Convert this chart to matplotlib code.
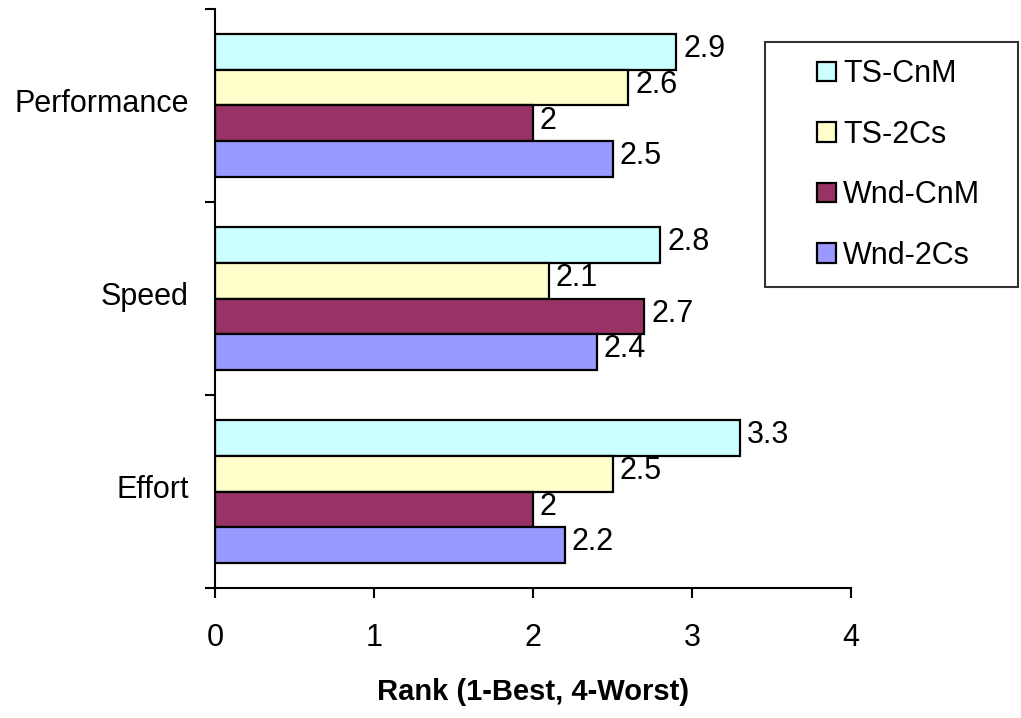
import matplotlib.pyplot as plt
import matplotlib.patches as patches
import matplotlib.transforms as mtransforms
import numpy as np

plt.rcParams['font.family'] = ['Liberation Sans', 'DejaVu Sans']

categories = ['Performance', 'Speed', 'Effort']
series = ['TS-CnM', 'TS-2Cs', 'Wnd-CnM', 'Wnd-2Cs']
ts_cnm = [2.9, 2.8, 3.3]
ts_2cs = [2.6, 2.1, 2.5]
wnd_cnm = [2.0, 2.7, 2.0]
wnd_2cs = [2.5, 2.4, 2.2]
colors = ['#CCFFFF', '#FFFFCC', '#993366', '#9999FF']

values = [ts_cnm, ts_2cs, wnd_cnm, wnd_2cs]

fig = plt.figure(figsize=(10.21, 7.18), dpi=100)
ax = fig.add_axes([0.2106, 0.181, 0.6229, 0.8065])

# Performance on top, Effort at the bottom
ypos = np.arange(len(categories))[::-1]
bar_h = 0.185
offsets = [1.5 * bar_h, 0.5 * bar_h, -0.5 * bar_h, -1.5 * bar_h]

handles = []
for vals, off, col, name in zip(values, offsets, colors, series):
    bars = ax.barh(ypos + off, vals, height=bar_h, color=col,
                   edgecolor='black', linewidth=1.6, label=name)
    handles.append(bars)
    for b, v in zip(bars, vals):
        txt = f'{v:g}'
        ax.annotate(txt, (b.get_width(), b.get_y() + b.get_height() / 2),
                    xytext=(5, 2), textcoords='offset points',
                    va='center', ha='left', fontsize=22)

ax.set_xlim(0, 4)
ax.set_ylim(-0.5, 2.5)
ax.set_xticks([0, 1, 2, 3, 4])
ax.set_yticks(ypos)
ax.set_yticklabels(categories)
ax.set_yticks([-0.5, 0.5, 1.5, 2.5], minor=True)

ax.tick_params(axis='y', which='major', length=0, pad=19, labelsize=22)
ax.tick_params(axis='y', which='minor', length=7, width=1.5, direction='out')
ax.tick_params(axis='x', length=7, width=1.5, direction='out', pad=18,
               labelsize=22)

# category names sit a little above the group centre
shift = mtransforms.ScaledTranslation(0, 0.05, fig.dpi_scale_trans)
for lbl in ax.get_yticklabels():
    lbl.set_transform(lbl.get_transform() + shift)

for side in ['top', 'right']:
    ax.spines[side].set_visible(False)
for side in ['left', 'bottom']:
    ax.spines[side].set_linewidth(1.5)

ax.set_xlabel('Rank (1-Best, 4-Worst)', fontsize=21, fontweight='bold',
              labelpad=18)

# legend box at the right
box = patches.Rectangle((765 / 1021, 1 - 287 / 718), 253 / 1021, 245 / 718,
                        transform=fig.transFigure, fill=False,
                        edgecolor='#333333', linewidth=1.5)
fig.patches.append(box)
fig.legend(handles=handles, labels=series, loc='upper left',
           bbox_to_anchor=(802 / 1021, 1 - 44 / 718), frameon=False,
           fontsize=22, handlelength=0.6, handleheight=0.6,
           handletextpad=0.25, labelspacing=1.0, borderpad=0)

fig.savefig('out.png', dpi=100)
